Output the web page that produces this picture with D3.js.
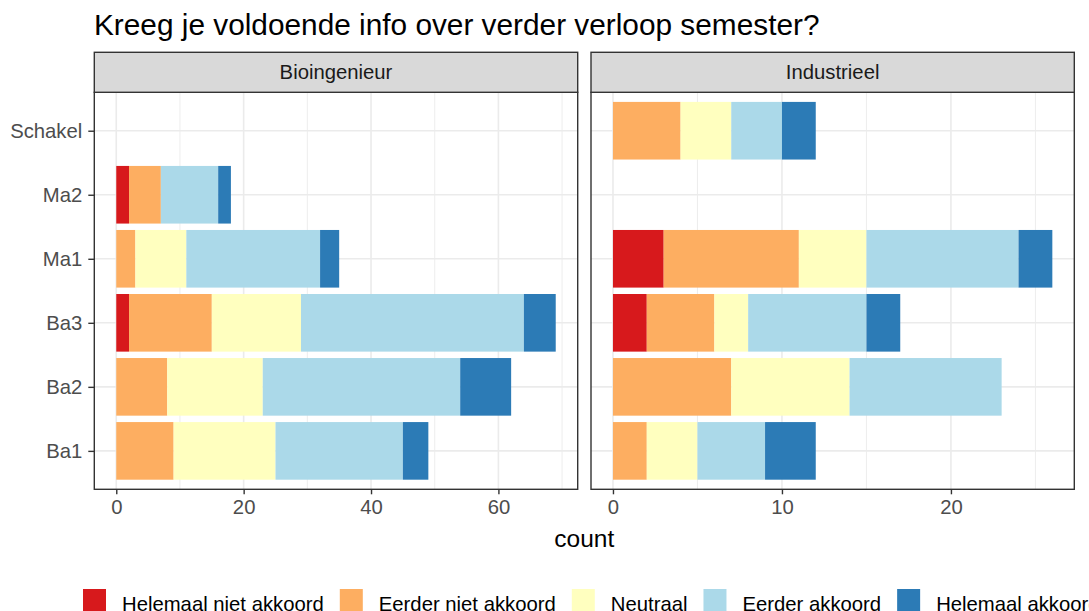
<!DOCTYPE html>
<html>
<head>
<meta charset="utf-8">
<script src="https://cdn.jsdelivr.net/npm/d3@7"></script>
<style>
  body { margin: 0; background: #fff; }
  svg { display: block; font-family: "Liberation Sans", Arial, sans-serif; }
</style>
</head>
<body>
<div class="chart"></div>
<script>
// data
var years = ['Ba1', 'Ba2', 'Ba3', 'Ma1', 'Ma2', 'Schakel'];
var answers = ['Helemaal niet akkoord', 'Eerder niet akkoord', 'Neutraal', 'Eerder akkoord', 'Helemaal akkoord'];
var colours = ['#d7191c', '#fdae61', '#ffffbf', '#abd9e9', '#2c7bb6'];
var facets = ['Bioingenieur', 'Industrieel'];

// counts per year, one value per answer (same order as answers)
var bioCounts = [
    [0, 9, 16, 20, 4],   // Ba1
    [0, 8, 15, 31, 8],   // Ba2
    [2, 13, 14, 35, 5],  // Ba3
    [0, 3, 8, 21, 3],    // Ma1
    [2, 5, 0, 9, 2],     // Ma2
    [0, 0, 0, 0, 0]      // Schakel
];
var indCounts = [
    [0, 2, 3, 4, 3],
    [0, 7, 7, 9, 0],
    [2, 4, 2, 7, 2],
    [3, 8, 4, 9, 2],
    [0, 0, 0, 0, 0],
    [0, 4, 3, 3, 2]
];
var bioTicks = [0, 20, 40, 60];
var bioMinor = [10, 30, 50, 70];
var indTicks = [0, 10, 20];
var indMinor = [5, 15, 25];

var W = 1089, H = 611;
var plotTop = 92.3, plotBottom = 489.3, stripTop = 52.3;
var tickFont = 20.3;

var svg = d3.select('.chart').append('svg')
    .attr('width', W)
    .attr('height', H);

// title
svg.append('text')
    .attr('x', 94)
    .attr('y', 35)
    .attr('font-size', 29.8)
    .attr('fill', '#000')
    .text('Kreeg je voldoende info over verder verloop semester?');

var y = d3.scalePoint()
    .domain(years)
    .range([plotBottom, plotTop])
    .padding(0.6);
var barH = y.step() * 0.9;

function stackRows(counts) {
    var rows = [];
    counts.forEach(function(row, i) {
        var x0 = 0;
        row.forEach(function(v, j) {
            if (v > 0) rows.push({year: years[i], answer: j, x0: x0, x1: x0 + v});
            x0 += v;
        });
    });
    return rows;
}

var panels = [
    {name: facets[0], counts: bioCounts, left: 94.3, right: 577.7, ticks: bioTicks, minor: bioMinor},
    {name: facets[1], counts: indCounts, left: 591, right: 1074.3, ticks: indTicks, minor: indMinor}
];

panels.forEach(function(p, pi) {
    var maxTotal = d3.max(p.counts, function(r) { return d3.sum(r); });
    var x = d3.scaleLinear()
        .domain([-maxTotal * 0.05, maxTotal * 1.05])
        .range([p.left, p.right]);

    var g = svg.append('g');

    // grid lines
    g.selectAll('.minor')
        .data(p.minor)
        .enter().append('line')
        .attr('x1', x).attr('x2', x)
        .attr('y1', plotTop).attr('y2', plotBottom)
        .attr('stroke', '#ebebeb').attr('stroke-width', 0.9);
    g.selectAll('.major')
        .data(p.ticks)
        .enter().append('line')
        .attr('x1', x).attr('x2', x)
        .attr('y1', plotTop).attr('y2', plotBottom)
        .attr('stroke', '#ebebeb').attr('stroke-width', 1.6);
    g.selectAll('.ygrid')
        .data(years)
        .enter().append('line')
        .attr('x1', p.left).attr('x2', p.right)
        .attr('y1', function(d) { return y(d); })
        .attr('y2', function(d) { return y(d); })
        .attr('stroke', '#ebebeb').attr('stroke-width', 1.6);

    // bars
    g.selectAll('.bar')
        .data(stackRows(p.counts))
        .enter().append('rect')
        .attr('x', function(d) { return x(d.x0); })
        .attr('width', function(d) { return x(d.x1) - x(d.x0); })
        .attr('y', function(d) { return y(d.year) - barH / 2; })
        .attr('height', barH)
        .attr('fill', function(d) { return colours[d.answer]; });

    // panel border
    g.append('rect')
        .attr('x', p.left).attr('y', plotTop)
        .attr('width', p.right - p.left).attr('height', plotBottom - plotTop)
        .attr('fill', 'none').attr('stroke', '#333333').attr('stroke-width', 1.4);

    // strip
    g.append('rect')
        .attr('x', p.left).attr('y', stripTop)
        .attr('width', p.right - p.left).attr('height', plotTop - stripTop)
        .attr('fill', '#d9d9d9').attr('stroke', '#333333').attr('stroke-width', 1.4);
    g.append('text')
        .attr('x', (p.left + p.right) / 2)
        .attr('y', (stripTop + plotTop) / 2)
        .attr('dy', '0.35em')
        .attr('text-anchor', 'middle')
        .attr('font-size', tickFont)
        .attr('fill', '#1a1a1a')
        .text(p.name);

    // x axis
    var xAxis = d3.axisBottom(x)
        .tickValues(p.ticks)
        .tickSize(5)
        .tickPadding(5);
    var ax = svg.append('g')
        .attr('transform', 'translate(0,' + plotBottom + ')')
        .call(xAxis);
    ax.select('.domain').remove();
    ax.selectAll('line').attr('stroke', '#333333').attr('stroke-width', 1.4);
    ax.selectAll('text')
        .attr('font-size', tickFont)
        .attr('font-family', '"Liberation Sans", Arial, sans-serif')
        .attr('fill', '#4d4d4d');

    // y axis only on first panel
    if (pi === 0) {
        var yAxis = d3.axisLeft(y)
            .tickSize(6)
            .tickPadding(6);
        var ay = svg.append('g')
            .attr('transform', 'translate(' + p.left + ',0)')
            .call(yAxis);
        ay.select('.domain').remove();
        ay.selectAll('line').attr('stroke', '#333333').attr('stroke-width', 1.4);
        ay.selectAll('text')
            .attr('font-size', tickFont)
            .attr('font-family', '"Liberation Sans", Arial, sans-serif')
            .attr('fill', '#4d4d4d');
    }
});

// x axis title
svg.append('text')
    .attr('x', (94.3 + 1074.3) / 2)
    .attr('y', 547)
    .attr('text-anchor', 'middle')
    .attr('font-size', 24.5)
    .attr('fill', '#000')
    .text('count');

// legend (runs off the right edge, as in the original)
var legend = svg.append('g');
var lx = 83;
answers.forEach(function(a, i) {
    legend.append('rect')
        .attr('x', lx).attr('y', 589)
        .attr('width', 23).attr('height', 23)
        .attr('fill', colours[i]);
    var t = legend.append('text')
        .attr('x', lx + 39)
        .attr('y', 611)
        .attr('font-size', 20.3)
        .attr('fill', '#000')
        .text(a);
    lx += 39 + t.node().getComputedTextLength() + 16;
});
</script>
</body>
</html>
